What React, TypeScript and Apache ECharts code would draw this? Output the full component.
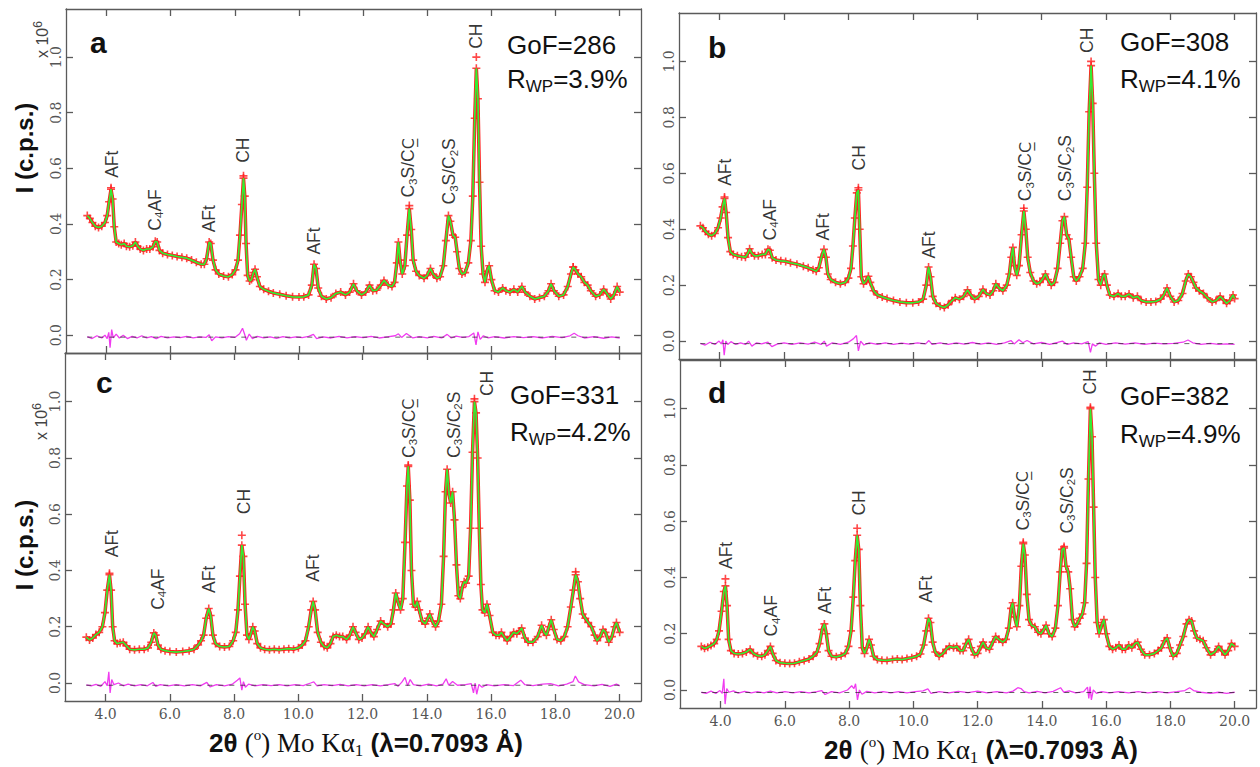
import React, { useEffect, useRef } from "react";
import * as echarts from "echarts";

// ---------- axis ranges & ticks ----------
const X_MIN = 2.736;
const X_MAX = 20.664;
const Y_MIN = -0.064;
const Y_MAX = 1.173;
const xTickValues = [4, 6, 8, 10, 12, 14, 16, 18, 20];
const yTickValues = [0, 0.2, 0.4, 0.6, 0.8, 1.0];
const thetaStart = 3.4;
const thetaEnd = 20.0;

// ---------- panel texts ----------
const panelLetters = ["a", "b", "c", "d"];
const gofValues = ["286", "308", "331", "382"];
const rwpValues = ["3.9%", "4.1%", "4.2%", "4.9%"];

// ---------- profiles (2θ, intensity x10^6) ----------
const profileA: [number, number][] = [
  [3.40,0.430],[3.48,0.420],[3.56,0.405],[3.65,0.392],[3.75,0.387],[3.85,0.392],[3.95,0.405],[4.02,0.43],[4.08,0.48],[4.14,0.525],[4.19,0.49],[4.24,0.39],[4.30,0.335],[4.38,0.33],[4.46,0.325],[4.55,0.33],[4.62,0.32],[4.72,0.318],[4.82,0.322],[4.90,0.335],[4.97,0.32],[5.05,0.31],[5.15,0.305],[5.25,0.31],[5.35,0.31],[5.45,0.318],[5.52,0.338],[5.58,0.335],[5.65,0.305],[5.75,0.295],[5.90,0.29],[6.05,0.287],[6.20,0.283],[6.35,0.28],[6.50,0.277],[6.65,0.27],[6.80,0.262],[6.95,0.255],[7.05,0.255],[7.12,0.275],[7.20,0.335],[7.25,0.33],[7.32,0.27],[7.40,0.235],[7.50,0.22],[7.65,0.213],[7.80,0.21],[7.92,0.218],[8.02,0.235],[8.10,0.27],[8.16,0.36],[8.22,0.47],[8.27,0.565],[8.31,0.5],[8.35,0.33],[8.40,0.215],[8.46,0.195],[8.52,0.2],[8.58,0.225],[8.63,0.237],[8.69,0.21],[8.78,0.175],[8.90,0.165],[9.05,0.158],[9.20,0.152],[9.40,0.147],[9.60,0.142],[9.80,0.138],[10.00,0.137],[10.15,0.138],[10.30,0.145],[10.40,0.18],[10.47,0.255],[10.53,0.24],[10.60,0.17],[10.70,0.14],[10.85,0.13],[11.00,0.135],[11.15,0.15],[11.30,0.155],[11.45,0.145],[11.58,0.155],[11.70,0.185],[11.80,0.16],[11.95,0.145],[12.08,0.155],[12.20,0.18],[12.30,0.16],[12.42,0.162],[12.55,0.18],[12.65,0.197],[12.78,0.18],[12.90,0.175],[12.98,0.19],[13.05,0.26],[13.10,0.335],[13.15,0.27],[13.22,0.22],[13.30,0.25],[13.37,0.36],[13.44,0.455],[13.50,0.38],[13.56,0.27],[13.65,0.23],[13.75,0.215],[13.90,0.205],[14.00,0.215],[14.10,0.24],[14.18,0.22],[14.30,0.205],[14.40,0.21],[14.50,0.25],[14.58,0.34],[14.66,0.43],[14.72,0.41],[14.80,0.36],[14.87,0.352],[14.93,0.3],[15.00,0.24],[15.08,0.22],[15.18,0.225],[15.28,0.26],[15.36,0.34],[15.42,0.5],[15.48,0.78],[15.53,0.96],[15.58,0.85],[15.63,0.55],[15.68,0.32],[15.74,0.22],[15.80,0.19],[15.86,0.23],[15.93,0.25],[16.00,0.2],[16.10,0.16],[16.22,0.155],[16.35,0.17],[16.45,0.16],[16.58,0.155],[16.70,0.165],[16.82,0.155],[16.95,0.175],[17.05,0.155],[17.20,0.14],[17.35,0.13],[17.50,0.135],[17.65,0.14],[17.78,0.16],[17.86,0.185],[17.95,0.16],[18.10,0.14],[18.25,0.145],[18.38,0.175],[18.48,0.22],[18.55,0.245],[18.62,0.235],[18.70,0.22],[18.80,0.21],[18.90,0.19],[19.00,0.18],[19.10,0.16],[19.25,0.14],[19.38,0.145],[19.50,0.165],[19.60,0.15],[19.72,0.13],[19.82,0.145],[19.92,0.175],[20.00,0.155],
];
const profileB: [number, number][] = [
  [3.40,0.412],[3.48,0.405],[3.56,0.392],[3.65,0.382],[3.75,0.377],[3.85,0.385],[3.95,0.405],[4.03,0.44],[4.09,0.48],[4.15,0.51],[4.20,0.46],[4.26,0.37],[4.33,0.32],[4.42,0.31],[4.55,0.305],[4.68,0.302],[4.80,0.3],[4.88,0.315],[4.93,0.33],[4.99,0.315],[5.08,0.305],[5.20,0.305],[5.32,0.31],[5.42,0.31],[5.50,0.328],[5.56,0.325],[5.63,0.298],[5.75,0.29],[5.90,0.287],[6.05,0.285],[6.20,0.28],[6.40,0.275],[6.60,0.268],[6.75,0.262],[6.90,0.255],[7.00,0.25],[7.08,0.262],[7.16,0.3],[7.24,0.328],[7.30,0.3],[7.36,0.24],[7.45,0.22],[7.60,0.21],[7.75,0.205],[7.90,0.21],[8.00,0.225],[8.08,0.26],[8.14,0.34],[8.20,0.44],[8.26,0.53],[8.31,0.54],[8.35,0.4],[8.40,0.23],[8.47,0.205],[8.55,0.215],[8.62,0.232],[8.68,0.21],[8.78,0.18],[8.90,0.165],[9.05,0.158],[9.20,0.152],[9.40,0.145],[9.60,0.14],[9.80,0.137],[10.00,0.137],[10.18,0.14],[10.32,0.15],[10.42,0.2],[10.49,0.265],[10.55,0.23],[10.62,0.16],[10.72,0.135],[10.85,0.125],[10.98,0.12],[11.10,0.13],[11.22,0.145],[11.32,0.155],[11.45,0.15],[11.58,0.16],[11.70,0.183],[11.80,0.165],[11.92,0.15],[12.05,0.16],[12.18,0.185],[12.28,0.17],[12.40,0.165],[12.50,0.18],[12.58,0.205],[12.68,0.19],[12.80,0.18],[12.92,0.2],[13.00,0.24],[13.06,0.3],[13.11,0.335],[13.16,0.27],[13.23,0.235],[13.30,0.27],[13.38,0.38],[13.45,0.465],[13.51,0.4],[13.57,0.3],[13.65,0.245],[13.75,0.215],[13.85,0.205],[13.95,0.21],[14.05,0.225],[14.12,0.24],[14.20,0.22],[14.30,0.2],[14.40,0.21],[14.50,0.26],[14.58,0.35],[14.65,0.43],[14.71,0.445],[14.78,0.38],[14.85,0.365],[14.92,0.3],[15.00,0.23],[15.08,0.215],[15.18,0.23],[15.28,0.26],[15.36,0.35],[15.42,0.55],[15.48,0.82],[15.54,0.985],[15.59,0.85],[15.64,0.6],[15.70,0.35],[15.77,0.22],[15.84,0.2],[15.90,0.23],[15.96,0.24],[16.03,0.2],[16.12,0.165],[16.25,0.16],[16.38,0.17],[16.48,0.16],[16.60,0.16],[16.72,0.168],[16.85,0.155],[16.98,0.16],[17.10,0.145],[17.25,0.14],[17.40,0.14],[17.55,0.142],[17.70,0.15],[17.80,0.165],[17.90,0.19],[18.00,0.16],[18.12,0.14],[18.25,0.145],[18.38,0.17],[18.48,0.215],[18.56,0.24],[18.64,0.23],[18.72,0.21],[18.80,0.19],[18.90,0.18],[19.03,0.17],[19.15,0.155],[19.30,0.14],[19.42,0.145],[19.55,0.16],[19.65,0.148],[19.75,0.135],[19.85,0.145],[19.95,0.165],[20.00,0.152],
];
const profileC: [number, number][] = [
  [3.40,0.163],[3.50,0.153],[3.60,0.16],[3.70,0.172],[3.80,0.18],[3.90,0.2],[3.98,0.25],[4.05,0.33],[4.12,0.385],[4.17,0.33],[4.22,0.2],[4.28,0.15],[4.36,0.14],[4.45,0.143],[4.55,0.145],[4.65,0.132],[4.75,0.12],[4.90,0.118],[5.05,0.12],[5.20,0.12],[5.32,0.125],[5.42,0.145],[5.50,0.178],[5.56,0.17],[5.63,0.135],[5.72,0.12],[5.85,0.115],[6.00,0.112],[6.20,0.11],[6.40,0.112],[6.60,0.115],[6.75,0.12],[6.88,0.135],[6.97,0.15],[7.05,0.17],[7.13,0.23],[7.21,0.265],[7.27,0.24],[7.34,0.17],[7.42,0.14],[7.55,0.13],[7.70,0.128],[7.85,0.13],[7.97,0.15],[8.05,0.18],[8.12,0.26],[8.18,0.38],[8.24,0.49],[8.29,0.45],[8.34,0.28],[8.40,0.17],[8.46,0.155],[8.52,0.175],[8.58,0.2],[8.64,0.185],[8.72,0.14],[8.82,0.125],[8.95,0.12],[9.10,0.118],[9.25,0.12],[9.40,0.118],[9.55,0.12],[9.70,0.122],[9.85,0.12],[10.00,0.125],[10.12,0.135],[10.22,0.15],[10.32,0.2],[10.40,0.26],[10.46,0.29],[10.52,0.26],[10.60,0.18],[10.70,0.145],[10.80,0.13],[10.90,0.125],[11.00,0.14],[11.08,0.165],[11.18,0.17],[11.28,0.165],[11.38,0.165],[11.50,0.155],[11.60,0.17],[11.70,0.2],[11.78,0.18],[11.88,0.155],[11.98,0.16],[12.08,0.175],[12.17,0.2],[12.25,0.18],[12.35,0.165],[12.45,0.19],[12.56,0.22],[12.66,0.21],[12.78,0.2],[12.88,0.21],[12.96,0.26],[13.03,0.32],[13.10,0.29],[13.18,0.26],[13.25,0.3],[13.32,0.5],[13.38,0.7],[13.42,0.77],[13.47,0.65],[13.52,0.4],[13.58,0.28],[13.64,0.27],[13.70,0.29],[13.76,0.26],[13.85,0.22],[13.95,0.21],[14.03,0.23],[14.09,0.245],[14.17,0.22],[14.27,0.2],[14.36,0.22],[14.45,0.28],[14.52,0.45],[14.58,0.68],[14.63,0.76],[14.69,0.67],[14.74,0.64],[14.80,0.68],[14.86,0.58],[14.92,0.42],[14.98,0.31],[15.04,0.3],[15.10,0.34],[15.16,0.36],[15.22,0.355],[15.30,0.38],[15.36,0.55],[15.42,0.82],[15.48,1.0],[15.53,0.96],[15.58,0.8],[15.63,0.55],[15.68,0.35],[15.73,0.26],[15.80,0.25],[15.87,0.28],[15.95,0.24],[16.05,0.18],[16.15,0.17],[16.25,0.17],[16.32,0.18],[16.40,0.165],[16.50,0.15],[16.60,0.165],[16.70,0.18],[16.80,0.175],[16.88,0.185],[16.95,0.195],[17.05,0.16],[17.15,0.145],[17.30,0.145],[17.45,0.165],[17.57,0.205],[17.65,0.18],[17.72,0.17],[17.80,0.2],[17.87,0.225],[17.95,0.19],[18.05,0.155],[18.17,0.15],[18.28,0.165],[18.38,0.2],[18.48,0.27],[18.56,0.33],[18.63,0.385],[18.70,0.36],[18.77,0.3],[18.85,0.245],[18.93,0.23],[19.02,0.215],[19.12,0.2],[19.22,0.17],[19.30,0.15],[19.40,0.165],[19.48,0.19],[19.56,0.18],[19.66,0.145],[19.76,0.165],[19.84,0.2],[19.90,0.215],[20.00,0.18],
];
const profileD: [number, number][] = [
  [3.40,0.155],[3.50,0.148],[3.60,0.152],[3.70,0.158],[3.80,0.165],[3.88,0.18],[3.95,0.21],[4.03,0.28],[4.10,0.35],[4.15,0.37],[4.20,0.3],[4.25,0.18],[4.32,0.14],[4.42,0.13],[4.55,0.128],[4.68,0.13],[4.80,0.135],[4.92,0.145],[5.02,0.13],[5.15,0.122],[5.28,0.12],[5.38,0.125],[5.47,0.14],[5.55,0.155],[5.62,0.13],[5.72,0.105],[5.85,0.097],[6.00,0.095],[6.15,0.094],[6.30,0.095],[6.45,0.1],[6.60,0.105],[6.75,0.11],[6.88,0.12],[7.00,0.135],[7.08,0.165],[7.16,0.215],[7.23,0.235],[7.29,0.2],[7.36,0.14],[7.45,0.12],[7.60,0.118],[7.75,0.122],[7.88,0.13],[7.98,0.155],[8.06,0.21],[8.13,0.33],[8.19,0.46],[8.25,0.55],[8.30,0.5],[8.35,0.3],[8.41,0.15],[8.48,0.13],[8.55,0.15],[8.62,0.18],[8.68,0.16],[8.76,0.12],[8.88,0.108],[9.02,0.106],[9.18,0.105],[9.35,0.108],[9.50,0.11],[9.65,0.108],[9.80,0.112],[9.95,0.115],[10.10,0.12],[10.22,0.128],[10.32,0.16],[10.40,0.21],[10.47,0.255],[10.53,0.24],[10.60,0.17],[10.68,0.135],[10.80,0.12],[10.92,0.13],[11.02,0.145],[11.12,0.155],[11.25,0.15],[11.35,0.155],[11.45,0.14],[11.55,0.14],[11.64,0.165],[11.72,0.18],[11.80,0.15],[11.90,0.125],[12.00,0.13],[12.10,0.155],[12.17,0.17],[12.26,0.15],[12.37,0.145],[12.47,0.17],[12.56,0.19],[12.66,0.18],[12.78,0.17],[12.88,0.18],[12.97,0.22],[13.04,0.29],[13.09,0.31],[13.15,0.26],[13.22,0.225],[13.30,0.3],[13.36,0.44],[13.42,0.52],[13.47,0.48],[13.53,0.34],[13.60,0.25],[13.68,0.23],[13.78,0.225],[13.88,0.205],[13.97,0.2],[14.06,0.215],[14.13,0.23],[14.22,0.2],[14.32,0.19],[14.42,0.22],[14.50,0.3],[14.57,0.42],[14.63,0.5],[14.69,0.505],[14.75,0.44],[14.82,0.42],[14.88,0.36],[14.95,0.25],[15.02,0.225],[15.10,0.235],[15.18,0.255],[15.26,0.27],[15.33,0.31],[15.39,0.45],[15.45,0.75],[15.51,1.0],[15.56,0.9],[15.61,0.65],[15.66,0.4],[15.72,0.24],[15.78,0.2],[15.86,0.23],[15.93,0.25],[16.00,0.2],[16.10,0.155],[16.20,0.145],[16.30,0.15],[16.40,0.16],[16.50,0.145],[16.60,0.145],[16.70,0.16],[16.80,0.15],[16.90,0.165],[16.98,0.17],[17.08,0.145],[17.20,0.125],[17.35,0.125],[17.50,0.13],[17.62,0.14],[17.72,0.15],[17.82,0.175],[17.90,0.185],[17.98,0.15],[18.08,0.12],[18.20,0.13],[18.30,0.16],[18.40,0.19],[18.50,0.235],[18.58,0.25],[18.66,0.245],[18.74,0.21],[18.82,0.185],[18.92,0.18],[19.02,0.175],[19.12,0.15],[19.25,0.125],[19.38,0.135],[19.50,0.155],[19.60,0.14],[19.70,0.125],[19.80,0.14],[19.90,0.165],[20.00,0.155],
];

// observed points standing above the fitted curve at peak tops
const peakObsA: [number, number][] = [[4.14,0.53],[8.27,0.573],[13.44,0.466],[15.53,1.0],[18.55,0.245]];
const peakObsB: [number, number][] = [[4.15,0.515],[8.31,0.548],[13.45,0.475],[15.54,1.0]];
const peakObsC: [number, number][] = [[4.12,0.39],[8.24,0.525],[13.42,0.775],[15.48,1.01],[18.63,0.395]];
const peakObsD: [number, number][] = [[4.15,0.395],[8.25,0.575],[13.42,0.525],[14.69,0.51],[15.51,1.005]];

// ---------- difference curves ----------
const diffA: [number, number][] = [
  [3.40,-0.005],[3.55,-0.012],[3.70,-0.002],[3.85,-0.01],[3.95,0.0],[4.02,-0.012],[4.07,0.01],[4.11,-0.045],[4.16,0.02],[4.21,-0.01],[4.30,0.004],[4.40,-0.01],[4.52,0.0],[4.65,-0.012],[4.80,-0.004],[4.95,-0.01],[5.10,-0.002],[5.25,-0.01],[5.40,-0.005],[5.55,-0.012],[5.70,-0.004],[5.90,-0.01],[6.10,-0.006],[6.30,-0.009],[6.50,-0.004],[6.70,-0.01],[6.90,-0.006],[7.10,-0.008],[7.20,0.002],[7.28,-0.02],[7.40,-0.006],[7.60,-0.01],[7.80,-0.005],[8.00,-0.008],[8.15,0.005],[8.24,0.025],[8.30,0.005],[8.36,-0.018],[8.45,0.004],[8.55,-0.012],[8.70,-0.004],[8.90,-0.01],[9.10,-0.006],[9.30,-0.011],[9.50,-0.005],[9.70,-0.01],[9.90,-0.006],[10.10,-0.009],[10.30,-0.004],[10.45,0.003],[10.55,-0.012],[10.75,-0.006],[11.00,-0.01],[11.25,-0.004],[11.50,-0.01],[11.75,-0.005],[12.00,-0.009],[12.25,-0.004],[12.50,-0.01],[12.75,-0.006],[13.00,-0.002],[13.10,0.005],[13.20,-0.008],[13.35,0.006],[13.45,-0.002],[13.55,-0.01],[13.75,-0.005],[14.00,-0.01],[14.20,-0.004],[14.45,-0.01],[14.62,0.003],[14.75,-0.01],[14.90,-0.003],[15.10,-0.008],[15.30,-0.005],[15.45,0.008],[15.52,-0.035],[15.58,0.012],[15.65,-0.015],[15.75,-0.002],[15.90,-0.01],[16.10,-0.005],[16.40,-0.01],[16.70,-0.005],[17.00,-0.009],[17.30,-0.005],[17.60,-0.01],[17.90,-0.004],[18.20,-0.009],[18.45,-0.002],[18.58,0.007],[18.70,-0.002],[18.90,-0.01],[19.20,-0.005],[19.50,-0.011],[19.75,-0.006],[20.00,-0.01],
];
const diffB: [number, number][] = [
  [3.40,-0.008],[3.55,-0.014],[3.70,-0.004],[3.85,-0.012],[3.98,0.0],[4.05,-0.01],[4.10,0.005],[4.14,-0.05],[4.19,0.0],[4.25,-0.012],[4.35,-0.002],[4.50,-0.012],[4.65,-0.006],[4.80,-0.012],[4.90,0.0],[5.00,-0.018],[5.15,-0.006],[5.30,-0.01],[5.50,-0.004],[5.62,-0.02],[5.80,-0.01],[6.00,-0.006],[6.25,-0.012],[6.50,-0.006],[6.75,-0.011],[6.95,-0.004],[7.15,-0.012],[7.25,0.0],[7.32,-0.018],[7.50,-0.006],[7.75,-0.012],[8.00,-0.004],[8.15,0.008],[8.25,0.02],[8.31,-0.035],[8.38,0.0],[8.48,-0.014],[8.65,-0.006],[8.90,-0.012],[9.15,-0.006],[9.40,-0.012],[9.65,-0.007],[9.90,-0.011],[10.15,-0.006],[10.40,-0.01],[10.50,0.002],[10.60,-0.012],[10.85,-0.006],[11.10,-0.012],[11.35,-0.006],[11.60,-0.011],[11.85,-0.005],[12.10,-0.011],[12.35,-0.006],[12.60,-0.012],[12.85,-0.006],[13.05,0.002],[13.15,-0.01],[13.30,0.005],[13.42,-0.006],[13.55,0.002],[13.75,-0.01],[14.00,-0.005],[14.25,-0.012],[14.50,-0.005],[14.65,0.0],[14.80,-0.012],[15.00,-0.006],[15.25,-0.01],[15.45,-0.002],[15.52,-0.04],[15.58,-0.01],[15.68,-0.018],[15.80,-0.006],[16.00,-0.012],[16.30,-0.006],[16.60,-0.011],[16.90,-0.006],[17.20,-0.012],[17.50,-0.007],[17.80,-0.01],[18.10,-0.008],[18.40,-0.004],[18.55,0.004],[18.70,-0.006],[18.95,-0.012],[19.25,-0.008],[19.50,-0.012],[19.75,-0.01],[20.00,-0.012],
];
const diffC: [number, number][] = [
  [3.40,-0.007],[3.55,-0.01],[3.70,-0.005],[3.85,-0.012],[3.98,0.005],[4.05,-0.01],[4.10,0.04],[4.14,-0.035],[4.19,0.012],[4.26,-0.006],[4.40,0.0],[4.55,-0.01],[4.70,-0.004],[4.90,-0.01],[5.10,-0.006],[5.30,-0.01],[5.47,0.002],[5.56,-0.012],[5.70,-0.006],[5.95,-0.01],[6.20,-0.006],[6.45,-0.01],[6.70,-0.006],[6.95,-0.01],[7.15,0.002],[7.25,-0.014],[7.45,-0.006],[7.70,-0.01],[7.95,-0.004],[8.10,0.01],[8.18,0.018],[8.24,-0.025],[8.29,0.005],[8.35,-0.015],[8.45,-0.004],[8.65,-0.01],[8.90,-0.006],[9.15,-0.009],[9.40,-0.006],[9.65,-0.01],[9.90,-0.006],[10.15,-0.009],[10.38,0.0],[10.48,0.004],[10.58,-0.01],[10.80,-0.006],[11.05,-0.009],[11.30,-0.005],[11.55,-0.01],[11.80,-0.006],[12.05,-0.01],[12.30,-0.006],[12.55,-0.01],[12.80,-0.006],[13.00,-0.002],[13.10,-0.012],[13.22,0.003],[13.32,0.02],[13.40,-0.01],[13.48,0.012],[13.58,-0.006],[13.80,-0.01],[14.05,-0.004],[14.30,-0.01],[14.50,-0.004],[14.60,0.015],[14.68,-0.008],[14.80,0.005],[14.95,-0.008],[15.20,-0.006],[15.38,-0.002],[15.45,-0.035],[15.50,0.0],[15.55,-0.04],[15.62,-0.005],[15.72,-0.015],[15.85,-0.006],[16.10,-0.01],[16.40,-0.006],[16.70,-0.009],[16.92,0.01],[17.05,-0.006],[17.30,-0.009],[17.60,-0.004],[17.85,-0.002],[18.10,-0.01],[18.35,-0.004],[18.55,0.005],[18.62,0.025],[18.72,0.004],[18.90,-0.006],[19.20,-0.01],[19.45,-0.005],[19.70,-0.012],[19.90,-0.004],[20.00,-0.01],
];
const diffD: [number, number][] = [
  [3.40,-0.008],[3.55,-0.012],[3.70,-0.004],[3.85,-0.012],[3.98,-0.002],[4.05,-0.012],[4.10,0.04],[4.14,-0.05],[4.19,0.005],[4.26,-0.008],[4.40,-0.003],[4.55,-0.011],[4.75,-0.005],[4.95,-0.01],[5.15,-0.006],[5.35,-0.01],[5.55,-0.004],[5.75,-0.01],[6.00,-0.006],[6.25,-0.01],[6.50,-0.006],[6.75,-0.01],[7.00,-0.006],[7.15,-0.002],[7.25,-0.016],[7.45,-0.006],[7.70,-0.01],[7.95,0.0],[8.08,0.015],[8.15,0.005],[8.20,0.022],[8.26,-0.035],[8.32,0.0],[8.40,-0.015],[8.55,-0.005],[8.80,-0.01],[9.05,-0.006],[9.30,-0.01],[9.55,-0.006],[9.80,-0.01],[10.05,-0.006],[10.30,-0.003],[10.45,0.004],[10.55,-0.012],[10.80,-0.006],[11.10,-0.01],[11.40,-0.005],[11.70,-0.009],[12.00,-0.004],[12.30,-0.01],[12.60,-0.006],[12.90,-0.01],[13.10,-0.004],[13.25,0.008],[13.35,0.005],[13.45,-0.006],[13.60,-0.01],[13.85,-0.005],[14.10,-0.01],[14.35,-0.005],[14.58,0.008],[14.68,-0.008],[14.85,-0.003],[15.05,-0.01],[15.30,-0.006],[15.42,0.01],[15.46,-0.03],[15.50,0.012],[15.54,-0.035],[15.60,0.0],[15.70,-0.012],[15.85,-0.006],[16.10,-0.01],[16.40,-0.006],[16.70,-0.01],[17.00,-0.006],[17.30,-0.01],[17.60,-0.006],[17.90,-0.01],[18.20,-0.006],[18.45,-0.002],[18.60,0.008],[18.72,-0.002],[18.95,-0.008],[19.25,-0.012],[19.50,-0.008],[19.75,-0.012],[20.00,-0.008],
];
const diffBase = [-0.007, -0.009, -0.008, -0.009];

// ---------- phase annotations (2θ, intensity at text start, phase) ----------
const annotA: [number, number, string][] = [[4.16,0.566,"AFt"],[5.5,0.376,"C4AF"],[7.2,0.37,"AFt"],[8.27,0.62,"CH"],[10.48,0.29,"AFt"],[13.4,0.495,"C3S/CC"],[14.69,0.47,"C3S/C2S"],[15.53,1.03,"CH"]];
const annotB: [number, number, string][] = [[4.15,0.555,"AFt"],[5.55,0.36,"C4AF"],[7.22,0.36,"AFt"],[8.33,0.61,"CH"],[10.5,0.295,"AFt"],[13.5,0.5,"C3S/CC"],[14.74,0.5,"C3S/C2S"],[15.42,1.03,"CH"]];
const annotC: [number, number, string][] = [[4.2,0.447,"AFt"],[5.63,0.26,"C4AF"],[7.22,0.32,"AFt"],[8.3,0.6,"CH"],[10.46,0.36,"AFt"],[13.44,0.8,"C3S/CC"],[14.84,0.8,"C3S/C2S"],[15.86,1.02,"CH"]];
const annotD: [number, number, string][] = [[4.18,0.43,"AFt"],[5.58,0.19,"C4AF"],[7.25,0.27,"AFt"],[8.3,0.62,"CH"],[10.4,0.31,"AFt"],[13.4,0.567,"C3S/CC"],[14.77,0.556,"C3S/C2S"],[15.5,1.05,"CH"]];

const profiles = [profileA, profileB, profileC, profileD];
const peakObs = [peakObsA, peakObsB, peakObsC, peakObsD];
const diffs = [diffA, diffB, diffC, diffD];
const annots = [annotA, annotB, annotC, annotD];

// ---------- layout ----------
const grids = [
  { left: 66, top: 9, width: 575, height: 344 },
  { left: 679, top: 13, width: 577, height: 346 },
  { left: 65, top: 353, width: 576, height: 348 },
  { left: 680, top: 360, width: 576, height: 348 },
];
const gofPos = [
  [507, 47, 82],
  [1120, 44, 82],
  [510, 397, 435],
  [1120, 398, 437],
];
const letterPos = [
  [90, 42],
  [708, 47],
  [96, 382],
  [708, 392],
];

const AXIS_COLOR = "#5a5a5a";
const PLUS = "path://M4,0H6V4H10V6H6V10H4V6H0V4H4Z";
const SANS = "Liberation Sans";
const SERIF = "Liberation Serif";
const TICK_FONT = "DejaVu Serif";

function annotText(name: string): string {
  switch (name) {
    case "C4AF":
      return "{t|C}{s|4}{t|AF}";
    case "C3S/CC":
      return "{t|C}{s|3}{t|S/C}{u|C\u0332}";
    case "C3S/C2S":
      return "{t|C}{s|3}{t|S/C}{s|2}{t|S}";
    default:
      return "{t|" + name + "}";
  }
}

const annotRich = {
  t: { fontFamily: SANS, fontSize: 17.5, color: "#000", lineHeight: 21 },
  u: { fontFamily: "DejaVu Sans", fontSize: 16, color: "#000", lineHeight: 21 },
  s: { fontFamily: SANS, fontSize: 11.5, color: "#000", lineHeight: 11, verticalAlign: "bottom" },
};

function xAxisCfg(gi: number, position: "bottom" | "top", showLabels: boolean, withName: boolean) {
  const axis: any = {
    type: "value",
    gridIndex: gi,
    position,
    min: X_MIN,
    max: X_MAX,
    axisLine: { show: true, onZero: false, lineStyle: { color: AXIS_COLOR, width: 1.3 } },
    axisTick: { show: true, inside: true, length: 7, customValues: xTickValues, lineStyle: { color: AXIS_COLOR, width: 1.3 } },
    axisLabel: {
      show: showLabels,
      customValues: xTickValues,
      formatter: (v: number) => v.toFixed(1),
      fontFamily: TICK_FONT,
      fontSize: 14,
      color: "#555",
      margin: 6,
    },
    splitLine: { show: false },
  };
  if (withName) {
    axis.name =
      "{b|2θ }{r|(}{sup|o}{r|) Mo K\u03b1}{sub|1}{b| (λ=0.7093 Å)}";
    axis.nameLocation = "middle";
    axis.nameGap = 26;
    axis.nameTextStyle = {
      padding: [0, 0, 0, 26],
      rich: {
        b: { fontFamily: SANS, fontWeight: "bold", fontSize: 26, color: "#111", lineHeight: 32 },
        r: { fontFamily: SERIF, fontSize: 27, color: "#111", lineHeight: 32 },
        sup: { fontFamily: SERIF, fontSize: 15, color: "#111", lineHeight: 15, verticalAlign: "top" },
        sub: { fontFamily: SERIF, fontSize: 17, color: "#111", lineHeight: 17, verticalAlign: "bottom" },
      },
    };
  }
  return axis;
}

function yAxisCfg(gi: number, position: "left" | "right", showLabels: boolean) {
  return {
    type: "value",
    gridIndex: gi,
    position,
    min: Y_MIN,
    max: Y_MAX,
    axisLine: { show: true, onZero: false, lineStyle: { color: AXIS_COLOR, width: 1.3 } },
    axisTick: { show: true, inside: true, length: 7, customValues: yTickValues, lineStyle: { color: AXIS_COLOR, width: 1.3 } },
    axisLabel: {
      show: showLabels,
      customValues: yTickValues,
      rotate: 90,
      formatter: (v: number) => v.toFixed(1),
      fontFamily: TICK_FONT,
      fontSize: 14,
      color: "#555",
      margin: 3,
    },
    splitLine: { show: false },
  };
}

function buildOption() {
  const xAxis: any[] = [];
  const yAxis: any[] = [];
  const series: any[] = [];
  const graphic: any[] = [];

  for (let i = 0; i < 4; i++) {
    const isBottomRow = i >= 2;
    xAxis.push(xAxisCfg(i, "bottom", isBottomRow, isBottomRow));
    xAxis.push(xAxisCfg(i, "top", false, false));
    yAxis.push(yAxisCfg(i, "left", true));
    yAxis.push(yAxisCfg(i, "right", false));
    const xi = 2 * i;
    const yi = 2 * i;

    // observed: red band + crosses
    series.push({
      type: "line",
      xAxisIndex: xi,
      yAxisIndex: yi,
      data: profiles[i],
      symbol: "none",
      lineStyle: { color: "#ff2020", width: 3.5 },
      z: 2,
      silent: true,
    });
    series.push({
      type: "scatter",
      xAxisIndex: xi,
      yAxisIndex: yi,
      data: profiles[i].concat(peakObs[i]),
      symbol: PLUS,
      symbolSize: 8,
      itemStyle: { color: "#ff1a1a" },
      z: 3,
      silent: true,
    });
    // calculated
    series.push({
      type: "line",
      xAxisIndex: xi,
      yAxisIndex: yi,
      data: profiles[i],
      symbol: "none",
      lineStyle: { color: "#33ee33", width: 1.7 },
      z: 4,
      silent: true,
    });
    // difference
    series.push({
      type: "line",
      xAxisIndex: xi,
      yAxisIndex: yi,
      data: diffs[i],
      symbol: "none",
      lineStyle: { color: "#f03cf0", width: 1.3 },
      z: 4,
      silent: true,
    });
    series.push({
      type: "line",
      xAxisIndex: xi,
      yAxisIndex: yi,
      data: [
        [thetaStart, diffBase[i]],
        [thetaEnd, diffBase[i]],
      ],
      symbol: "none",
      lineStyle: { color: "#222", width: 1, type: [5, 6], opacity: 0.7 },
      z: 5,
      silent: true,
    });
    // annotations
    series.push({
      type: "scatter",
      xAxisIndex: xi,
      yAxisIndex: yi,
      data: annots[i].map((a) => ({ value: [a[0], a[1]], name: a[2] })),
      symbolSize: 1,
      itemStyle: { color: "rgba(0,0,0,0)" },
      label: {
        show: true,
        position: "inside",
        align: "left",
        verticalAlign: "middle",
        rotate: 90,
        formatter: (p: any) => annotText(p.name),
        rich: annotRich,
      },
      z: 6,
      silent: true,
    });

    // GoF / Rwp texts
    graphic.push({
      type: "text",
      left: gofPos[i][0],
      top: gofPos[i][1] - 15,
      style: { text: "GoF=" + gofValues[i], fontFamily: SANS, fontSize: 26, fill: "#111" },
    });
    graphic.push({
      type: "text",
      left: gofPos[i][0],
      top: gofPos[i][2] - 16,
      style: {
        text: "{m|R}{s|WP}{m|=" + rwpValues[i] + "}",
        rich: {
          m: { fontFamily: SANS, fontSize: 26, fill: "#111", lineHeight: 32 },
          s: { fontFamily: SANS, fontSize: 17, fill: "#111", lineHeight: 17, verticalAlign: "bottom" },
        },
      },
    });
    graphic.push({
      type: "text",
      x: letterPos[i][0],
      y: letterPos[i][1],
      style: {
        text: panelLetters[i],
        fontFamily: SANS,
        fontWeight: "bold",
        fontSize: 30,
        fill: "#111",
        verticalAlign: "middle",
      },
    });
  }

  // y-axis titles for the left column
  const yTitleCenters = [148, 545];
  const yExpCenters = [[42, 58], [41, 440]];
  for (let k = 0; k < 2; k++) {
    graphic.push({
      type: "text",
      x: 24,
      y: yTitleCenters[k],
      rotation: Math.PI / 2,
      style: {
        text: "I (c.p.s.)",
        fontFamily: SANS,
        fontWeight: "bold",
        fontSize: 24,
        fill: "#111",
        align: "center",
        verticalAlign: "middle",
      },
    });
    graphic.push({
      type: "text",
      x: yExpCenters[k][0],
      y: yExpCenters[k][1],
      rotation: Math.PI / 2,
      style: {
        text: "{n|x 10}{p|6}",
        align: "left",
        verticalAlign: "middle",
        rich: {
          n: { fontFamily: SANS, fontSize: 16, fill: "#444", lineHeight: 20 },
          p: { fontFamily: SANS, fontSize: 12, fill: "#444", lineHeight: 12, verticalAlign: "top" },
        },
      },
    });
  }

  return {
    animation: false,
    backgroundColor: "#ffffff",
    grid: grids.map((g) => ({ ...g, containLabel: false })),
    xAxis,
    yAxis,
    series,
    graphic,
  };
}

export default function App() {
  const ref = useRef<HTMLDivElement>(null);
  useEffect(() => {
    if (!ref.current) return;
    const chart = echarts.init(ref.current, null, { renderer: "svg" });
    chart.setOption(buildOption() as any);
    return () => chart.dispose();
  }, []);
  return (
    <div
      ref={ref}
      style={{ position: "absolute", left: 0, top: 0, width: 1260, height: 767, background: "#fff" }}
    />
  );
}
